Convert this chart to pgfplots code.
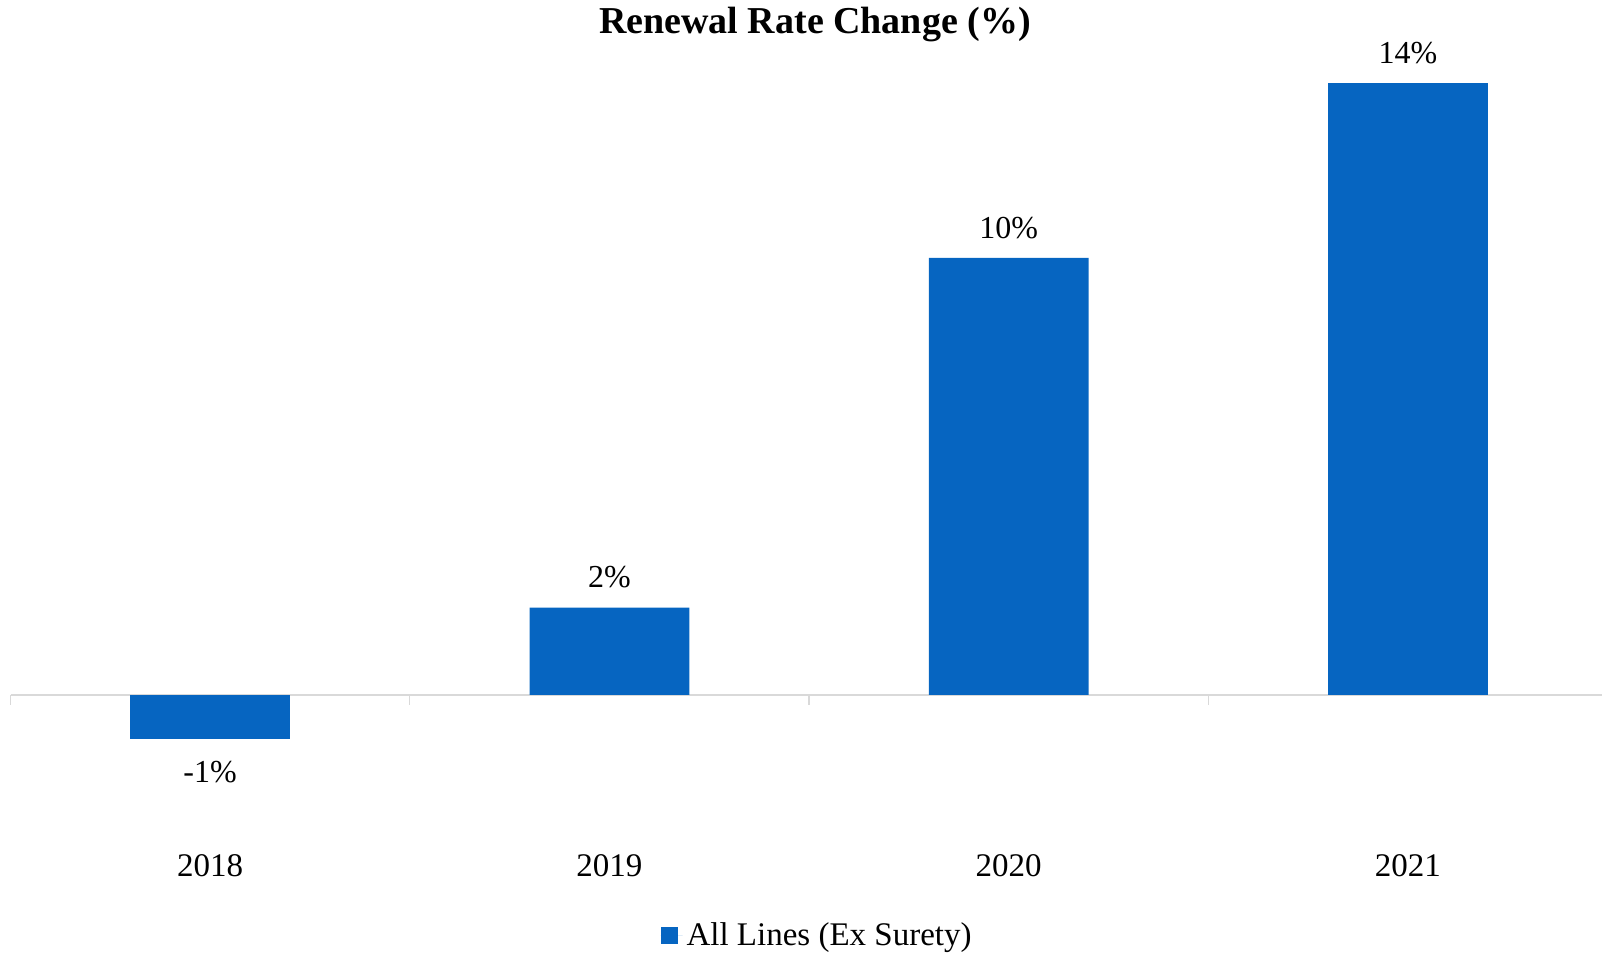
\documentclass[border=0pt]{standalone}
\usepackage{pgfplots}
\usepackage{pgfplotstable}
\usepackage{fontspec}
\setmainfont{Liberation Serif}
\pgfplotsset{compat=1.18}

\definecolor{barblue}{HTML}{0665C1}
\definecolor{axisgray}{HTML}{D9D9D9}

% renewal rate change (%) by year; printed label in the last column
\pgfplotstableread{
x  y   lab
1   2   2
2  10  10
3  14  14
}\ratepos
\pgfplotstableread{
x  y   lab
0  -1  -1
}\rateneg

\begin{document}
\begin{tikzpicture}
\begin{axis}[
  at={(0,0)}, anchor=south west,
  scale only axis,
  width=795.75pt, height=415.2pt,
  xmin=-0.5, xmax=3.486,
  ymin=-4, ymax=15,
  enlargelimits=false,
  clip=false,
  axis x line=bottom,
  axis y line=none,
  x axis line style={draw=none},
  xtick={0,1,2,3},
  xticklabels={2018,2019,2020,2021},
  major tick length=0pt,
  xtick style={draw=none},
  xticklabel style={anchor=center, yshift=1.9pt, font=\fontsize{16.5}{19}\selectfont},
  title={Renewal Rate Change (\%)},
  every axis title shift=0pt,
  title style={at={(axis description cs:0.5055,1.0179)}, anchor=center,
    font=\bfseries\fontsize{19}{22}\selectfont},
  legend style={at={(axis description cs:0.5074,-0.0797)}, anchor=center,
    draw=none, fill=none, font=\fontsize{16.5}{19}\selectfont,
    /tikz/every even column/.append style={column sep=0pt}},
  legend cell align=left,
  ybar, bar width=0.4, bar shift=0pt,
  point meta=explicit symbolic,
  nodes near coords={\pgfplotspointmeta\%},
]
% zero line and category separators
\draw[axisgray, line width=1pt] (axis cs:-0.5,0) -- (axis cs:3.486,0);
\draw[axisgray, line width=0.7pt] (axis cs:-0.5,0) -- ([yshift=-5pt]axis cs:-0.5,0);
\draw[axisgray, line width=0.7pt] (axis cs:0.5,0) -- ([yshift=-5pt]axis cs:0.5,0);
\draw[axisgray, line width=0.7pt] (axis cs:1.5,0) -- ([yshift=-5pt]axis cs:1.5,0);
\draw[axisgray, line width=0.7pt] (axis cs:2.5,0) -- ([yshift=-5pt]axis cs:2.5,0);
\addplot[
  fill=barblue, draw=none,
  legend image code/.code={
    \fill[barblue] (0pt,-4.25pt) rectangle (8.5pt,4.25pt);
    \path (0pt,0pt) -- (11pt,0pt);
  },
  every node near coord/.append style={font=\fontsize{16}{19}\selectfont,
    anchor=south, inner ysep=9.5pt, inner xsep=0pt, text=black},
] table[x=x, y=y, meta=lab] {\ratepos};
\addlegendentry{All Lines (Ex Surety)}
\addplot[
  fill=barblue, draw=none, forget plot,
  every node near coord/.append style={font=\fontsize{16}{19}\selectfont,
    anchor=north, inner ysep=11pt, inner xsep=0pt, text=black},
] table[x=x, y=y, meta=lab] {\rateneg};
\end{axis}
\pgfresetboundingbox
\path (-5.25pt,-42.1pt) rectangle (795.75pt,434.9pt);
\end{tikzpicture}
\end{document}
